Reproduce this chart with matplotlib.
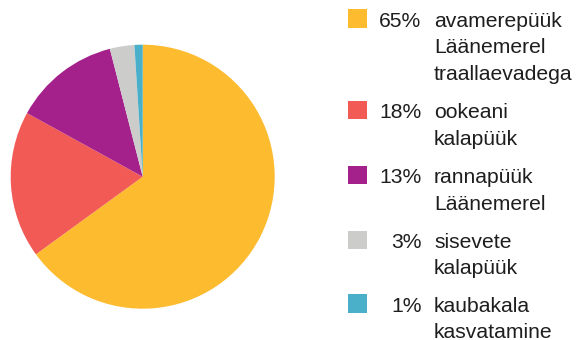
import matplotlib.pyplot as plt
from matplotlib.patches import Rectangle

shares = [65, 18, 13, 3, 1]
labels = [
    "avamerepüük\nLäänemerel\ntraallaevadega",
    "ookeani\nkalapüük",
    "rannapüük\nLäänemerel",
    "sisevete\nkalapüük",
    "kaubakala\nkasvatamine",
]
colors = ["#FDBB30", "#F15A55", "#A4218C", "#CCCCCB", "#4AAFC8"]

plt.rcParams['font.family'] = ['Liberation Sans', 'DejaVu Sans']

W, H = 576, 340
fig = plt.figure(figsize=(W / 100, H / 100), dpi=100)

# pie, clockwise from 12 o'clock
cx, cy, r = 142.7, 163.3, 132
ax = fig.add_axes([(cx - r) / W, (cy - r) / H, 2 * r / W, 2 * r / H])
ax.pie(shares, colors=colors, startangle=90, counterclock=False,
       wedgeprops=dict(linewidth=0))
ax.set_aspect('equal')
ax.set_xlim(-1, 1)
ax.set_ylim(-1, 1)
ax.axis('off')

# legend: coloured square, right-aligned percent, wrapped label
baselines = [26.7, 118.3, 183.3, 247.8, 311.7]
text_color = "#1e1e1e"
fs = 15.2
for share, label, color, yb in zip(shares, labels, colors, baselines):
    fig.patches.append(Rectangle((348.3 / W, (H - yb - 1) / H), 18.3 / W, 18.3 / H,
                                 transform=fig.transFigure, color=color,
                                 linewidth=0))
    fig.text(421.5 / W, (H - yb) / H, f"{share}%", ha='right', va='baseline',
             fontsize=fs, color=text_color)
    for i, line in enumerate(label.split("\n")):
        fig.text(434 / W, (H - yb - 26.7 * i) / H, line, ha='left',
                 va='baseline', fontsize=fs, color=text_color)

fig.savefig("out.png", dpi=100)
